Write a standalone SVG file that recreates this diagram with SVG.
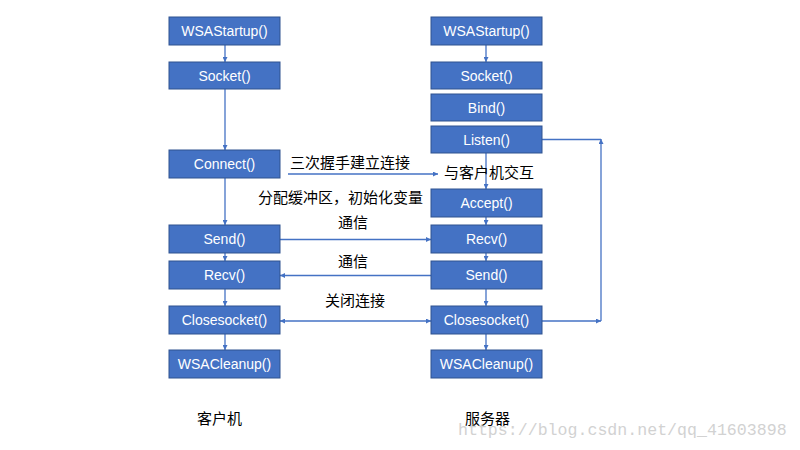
<svg xmlns="http://www.w3.org/2000/svg" width="800" height="450" viewBox="0 0 800 450">
<style>
.box{fill:#4472C4;stroke:#2F528F;stroke-width:1}
.bt{font-family:"Liberation Sans","Noto Sans",sans-serif;font-size:14px;fill:#ffffff;text-anchor:middle}
.lb{font-family:"Noto Sans CJK SC","Noto Sans",sans-serif;font-size:15px;fill:#000000}
.ln{fill:none;stroke:#4472C4;stroke-width:1.3}
.wm{font-family:"Liberation Mono",monospace;font-size:16.6px;fill:#d2d2d2}
</style>
<defs>
<marker id="ah" viewBox="0 0 10 10" refX="10" refY="5" markerWidth="5" markerHeight="5" orient="auto-start-reverse" markerUnits="userSpaceOnUse">
<path d="M0,0 L10,5 L0,10 z" fill="#4472C4"/>
</marker>
</defs>
<rect width="800" height="450" fill="#ffffff"/>
<g id="connectors">
<line class="ln" x1="225" y1="45" x2="225" y2="62" marker-end="url(#ah)"/>
<line class="ln" x1="225" y1="89" x2="225" y2="150" marker-end="url(#ah)"/>
<line class="ln" x1="225" y1="178" x2="225" y2="225" marker-end="url(#ah)"/>
<line class="ln" x1="225" y1="253" x2="225" y2="261" marker-end="url(#ah)"/>
<line class="ln" x1="225" y1="289" x2="225" y2="306" marker-end="url(#ah)"/>
<line class="ln" x1="225" y1="334" x2="225" y2="350" marker-end="url(#ah)"/>
<line class="ln" x1="486" y1="45" x2="486" y2="62" marker-end="url(#ah)"/>
<line class="ln" x1="486" y1="153" x2="486" y2="189" marker-end="url(#ah)"/>
<line class="ln" x1="486" y1="217" x2="486" y2="225" marker-end="url(#ah)"/>
<line class="ln" x1="486" y1="253" x2="486" y2="261" marker-end="url(#ah)"/>
<line class="ln" x1="486" y1="289" x2="486" y2="306" marker-end="url(#ah)"/>
<line class="ln" x1="486" y1="334" x2="486" y2="350" marker-end="url(#ah)"/>
<line class="ln" x1="288" y1="174" x2="438" y2="174" marker-end="url(#ah)"/>
<line class="ln" x1="280" y1="239.5" x2="431" y2="239.5" marker-end="url(#ah)"/>
<line class="ln" x1="431" y1="275.5" x2="280" y2="275.5" marker-end="url(#ah)"/>
<line class="ln" x1="280" y1="321" x2="431" y2="321" marker-start="url(#ah)" marker-end="url(#ah)"/>
<line class="ln" x1="542" y1="321" x2="601" y2="321" marker-end="url(#ah)"/>
<line class="ln" x1="601" y1="321" x2="601" y2="139" marker-end="url(#ah)"/>
<line class="ln" x1="601" y1="139.5" x2="542" y2="139.5"/>
</g>
<g id="c-wsastartup"><rect class="box" x="169" y="17" width="111" height="28"/><text class="bt" x="224.5" y="36">WSAStartup()</text></g>
<g id="c-socket"><rect class="box" x="169" y="62" width="111" height="27"/><text class="bt" x="224.5" y="80.5">Socket()</text></g>
<g id="c-connect"><rect class="box" x="169" y="150" width="111" height="28"/><text class="bt" x="224.5" y="169">Connect()</text></g>
<g id="c-send"><rect class="box" x="169" y="225" width="111" height="28"/><text class="bt" x="224.5" y="244">Send()</text></g>
<g id="c-recv"><rect class="box" x="169" y="261" width="111" height="28"/><text class="bt" x="224.5" y="280">Recv()</text></g>
<g id="c-close"><rect class="box" x="169" y="306" width="111" height="28"/><text class="bt" x="224.5" y="325">Closesocket()</text></g>
<g id="c-cleanup"><rect class="box" x="169" y="350" width="111" height="28"/><text class="bt" x="224.5" y="369">WSACleanup()</text></g>
<g id="s-wsastartup"><rect class="box" x="431" y="17" width="111" height="28"/><text class="bt" x="486.5" y="36">WSAStartup()</text></g>
<g id="s-socket"><rect class="box" x="431" y="62" width="111" height="27"/><text class="bt" x="486.5" y="80.5">Socket()</text></g>
<g id="s-bind"><rect class="box" x="431" y="94" width="111" height="27"/><text class="bt" x="486.5" y="112.5">Bind()</text></g>
<g id="s-listen"><rect class="box" x="431" y="126" width="111" height="27"/><text class="bt" x="486.5" y="144.5">Listen()</text></g>
<g id="s-accept"><rect class="box" x="431" y="189" width="111" height="28"/><text class="bt" x="486.5" y="208">Accept()</text></g>
<g id="s-recv"><rect class="box" x="431" y="225" width="111" height="28"/><text class="bt" x="486.5" y="244">Recv()</text></g>
<g id="s-send"><rect class="box" x="431" y="261" width="111" height="28"/><text class="bt" x="486.5" y="280">Send()</text></g>
<g id="s-close"><rect class="box" x="431" y="306" width="111" height="28"/><text class="bt" x="486.5" y="325">Closesocket()</text></g>
<g id="s-cleanup"><rect class="box" x="431" y="350" width="111" height="28"/><text class="bt" x="486.5" y="369">WSACleanup()</text></g>
<g id="labels">
<text class="lb" x="290" y="168">三次握手建立连接</text>
<text class="lb" x="444" y="178">与客户机交互</text>
<text class="lb" x="258" y="203">分配缓冲区，初始化变量</text>
<text class="lb" x="338" y="228">通信</text>
<text class="lb" x="338" y="267">通信</text>
<text class="lb" x="325" y="306">关闭连接</text>
<text class="lb" x="197" y="424">客户机</text>
<text class="lb" x="465" y="424">服务器</text>
<text class="wm" x="458" y="435">https://blog.csdn.net/qq_41603898</text>
</g>
</svg>
